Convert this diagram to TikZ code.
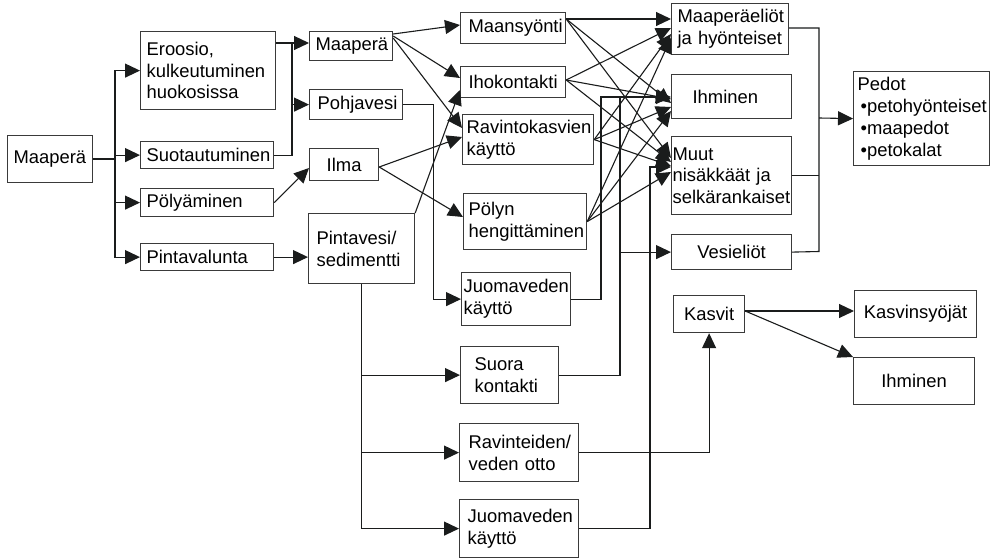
\documentclass[tikz,border=0pt]{standalone}
\usepackage{fontspec}
\setmainfont{Liberation Sans}
\usetikzlibrary{arrows.meta,calc}
\hyphenpenalty=10000
\exhyphenpenalty=10000
\definecolor{boxc}{HTML}{3A3A3A}
\definecolor{linec}{HTML}{1A1C1C}
\tikzset{
  bx/.style n args={2}{draw=boxc, line width=1.2pt, anchor=north west, inner xsep=1pt, inner ysep=0pt,
    align=left, text width=#1pt-2pt, minimum width=#1pt, minimum height=#2pt,
    font=\fontsize{18.4}{21.8}\selectfont},
  lp/.style={execute at begin node={\leftskip=#1pt\relax}},
  ctr/.style={align=center},
  ln/.style={draw=linec, line width=1.1pt},
  arr/.style={-{Triangle[length=15pt,width=14pt]}},
}
\begin{document}
\begin{tikzpicture}[x=1pt,y=-1pt]
\path[fill=white,use as bounding box] (0,0) rectangle (990,559);

% boxes
\node[bx={85}{47},lp=5] (maap1) at (7,135) {Maaperä};
\node[bx={135}{78},lp=5] (ero) at (140,31) {Eroosio,\\kulkeutuminen\\huokosissa};
\node[bx={133}{27},lp=5] (suot) at (140,141) {Suotautuminen};
\node[bx={133}{28},lp=5] (poly) at (140,188) {Pölyäminen};
\node[bx={133}{27},lp=5] (pinval) at (140,243) {Pintavalunta};
\node[bx={83}{29},lp=5] (maap2) at (309,31) {Maaperä};
\node[bx={93}{30},lp=7] (pohj) at (309,89) {Pohjavesi};
\node[bx={69}{32},ctr] (ilma) at (309,148) {Ilma};
\node[bx={106}{70},lp=7] (pintav) at (308,213) {Pintavesi/\\sedimentti\\[6pt]};
\node[bx={105}{31},lp=7] (maans) at (460,12) {Maansyönti};
\node[bx={105}{31},lp=7] (ihok) at (460,66) {Ihokontakti};
\node[bx={131}{50},lp=3] (ravk) at (462,114) {Ravintokasvien\\käyttö};
\node[bx={123}{56},lp=4] (polh) at (463,193) {Pölyn\\hengittäminen};
\node[bx={109}{53},lp=1] (juo1) at (461,272) {Juomaveden\\käyttö};
\node[bx={98}{57},lp=13] (suora) at (460,346) {Suora\\kontakti};
\node[bx={119}{58},lp=8] (ravo) at (459,423) {Ravinteiden/\\veden otto};
\node[bx={119}{58},lp=7] (juo2) at (459,499) {Juomaveden\\käyttö};
\node[bx={117}{51},lp=5] (mae) at (671,3) {Maaperäeliöt\\ja hyönteiset};
\node[bx={120}{44},lp=20] (ihm) at (671,74) {Ihminen};
\node[bx={120}{78},lp=0] (muut) at (671,136) {Muut\\nisäkkäät ja\\selkärankaiset};
\node[bx={120}{35},ctr] (ves) at (671,234) {Vesieliöt};
\node[bx={136}{94},lp=3] (pedot) at (853,71) {Pedot\\\hspace*{3pt}•petohyönteiset\\\hspace*{3pt}•maapedot\\\hspace*{3pt}•petokalat};
\node[bx={71}{37},ctr] (kasv) at (673,295) {Kasvit};
\node[bx={122}{47},ctr] (ksy) at (854,290) {Kasvinsyöjät};
\node[bx={121}{47},ctr] (ihm2) at (853,357) {Ihminen};

% junction coordinates
\coordinate (j1) at (115,159);
\coordinate (j2) at (292,43);
\coordinate (k1) at (601,97);
\coordinate (k2) at (620,97);
\coordinate (k3) at (650,167);
\coordinate (c0) at (819,28);
\coordinate (c1) at (819,118);
\coordinate (c2) at (819,251.5);

% left fan
\draw[ln] (maap1.east |- j1) -- (j1);
\draw[ln,arr] (j1) |- (ero.west);
\draw[ln,arr] (j1) |- (suot.west);
\draw[ln,arr] (j1) |- (poly.west);
\draw[ln,arr] (j1) |- (pinval.west);

% erosion / infiltration
\draw[ln,arr] (ero.east |- j2) -- (maap2.west |- j2);
\draw[ln] (suot.east) -| (j2);
\draw[ln,arr] (j2 |- pohj.west) -- (pohj.west);
\draw[ln,arr] (poly.east) -- (ilma.west |- 0,168);
\draw[ln,arr] (pinval.east) -- (pintav.west |- pinval.east);

% to exposure routes
\draw[ln,arr] (maap2.east |- 0,34) -- (maans.west |- 0,25);
\draw[ln,arr] (maap2.east |- 0,36) -- (ihok.west |- 0,78);
\draw[ln,arr] (maap2.east |- 0,38) -- (ravk.west |- 0,128);
\draw[ln,arr] (ilma.east |- 0,167) -- (ravk.west |- 0,137);
\draw[ln,arr] (ilma.east |- 0,167) -- (polh.west |- 0,217);
\draw[ln,arr] (pintav.north east) -- (ihok.west |- 0,90);
\draw[ln,arr] (pohj.east) -- ++(30,0) |- (juo1.west);
\draw[ln,arr] (pintav.south) |- (suora.west);
\draw[ln,arr] (pintav.south) |- (ravo.west);
\draw[ln,arr] (pintav.south) |- (juo2.west);

% routes to receptors
\draw[ln,arr] (maans.east |- 0,19) -- (mae.west |- 0,19);
\draw[ln,arr] (maans.east |- 0,19) -- (ihm.west |- 0,103);
\draw[ln,arr] (maans.east |- 0,19) -- (muut.west |- 0,158);
\draw[ln,arr] (ihok.east |- 0,80) -- (mae.west |- 0,28);
\draw[ln,arr] (ihok.east |- 0,80) -- (ihm.west |- 0,99);
\draw[ln,arr] (ihok.east |- 0,80) -- (muut.west |- 0,162);
\draw[ln,arr] (ravk.east) -- (mae.west |- 0,34);
\draw[ln,arr] (ravk.east) -- (ihm.west |- 0,107);
\draw[ln,arr] (ravk.east) -- (muut.west |- 0,166);
\draw[ln,arr] (polh.east) -- (mae.west |- 0,38);
\draw[ln,arr] (polh.east) -- (ihm.west |- 0,111);
\draw[ln,arr] (polh.east) -- (muut.west |- 0,172);

\draw[ln,arr] (juo1.east) -| (k1) -- (ihm.west |- k1);
\draw[ln] (suora.east) -| (k2);
\draw[ln,arr] (k2 |- ves.west) -- (ves.west);
\draw[ln,arr] (juo2.east) -| (k3) -- (muut.west |- k3);
\draw[ln,arr] (ravo.east) -| (kasv.south);

% plants
\draw[ln,arr] (kasv.east |- 0,311) -- (ksy.west |- 0,311);
\draw[ln,arr] (kasv.east |- 0,311) -- (ihm2.north west);

% predators collector
\draw[ln] (mae.east |- c0) -- (c0) -- (c2) -- (ves.east);
\draw[ln] (muut.east) -- (muut.east -| c0);
\draw[ln,arr] (c1) -- (pedot.west);
\end{tikzpicture}
\end{document}
